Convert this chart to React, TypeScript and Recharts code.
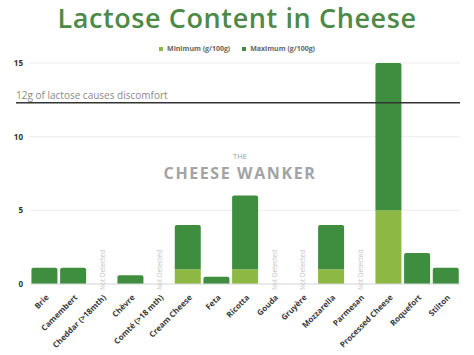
import React from 'react';
import { BarChart, Bar, XAxis, YAxis, CartesianGrid, ReferenceLine } from 'recharts';

const cheeses = ['Brie', 'Camembert', 'Cheddar (>18mth)', 'Chèvre', 'Comté (>18 mth)', 'Cream Cheese', 'Feta', 'Ricotta', 'Gouda', 'Gruyère', 'Mozzarella', 'Parmesan', 'Processed Cheese', 'Roquefort', 'Stilton'];
const minimum: (number | null)[] = [null, null, null, null, null, 1, null, 1, null, null, 1, null, 5, null, null];
const maximum: (number | null)[] = [1.1, 1.1, null, 0.6, null, 4, 0.5, 6, null, null, 4, null, 15, 2.1, 1.1];
const notDetected = ['Cheddar (>18mth)', 'Comté (>18 mth)', 'Gouda', 'Gruyère', 'Parmesan'];
const yTicks = [0, 5, 10, 15];
const discomfortLevel = 12.3;
const discomfortLabel = '12g of lactose causes discomfort';

const DARK = '#3f8e3f';
const LIGHT = '#8cb843';

const data = cheeses.map((name, i) => {
  const mn = minimum[i] ?? 0;
  const mx = maximum[i];
  return {
    name,
    min: minimum[i],
    rest: mx == null ? null : mx - mn,
  };
});

const FONT = '"Open Sans", sans-serif';

const XTick = (props: any) => {
  const { x, y, payload } = props;
  const nd = notDetected.includes(payload.value);
  return (
    <g>
      <text
        transform={`translate(${x + 5},${y + 6}) rotate(-45)`}
        textAnchor="end"
        fontSize={8}
        fontWeight={700}
        fill="#3a3a3a"
        fontFamily={FONT}
      >
        {payload.value}
      </text>
      {nd && (
        <text
          transform={`translate(${x + 3},${y - 2}) rotate(-90)`}
          textAnchor="start"
          fontSize={6.5}
          fill="#c4c4c4"
          fontFamily={FONT}
        >
          Not Detected
        </text>
      )}
    </g>
  );
};

const RefLabel = (props: any) => {
  const { viewBox } = props;
  const y = viewBox.y;
  return (
    <g>
      <line x1={16} x2={viewBox.x} y1={y} y2={y} stroke="#333" strokeWidth={1.5} />
      <text x={16} y={y - 4} fontSize={10} fill="#8a8a8a" fontFamily={FONT}>
        {discomfortLabel}
      </text>
    </g>
  );
};

export default function App() {
  return (
    <div style={{ position: 'absolute', left: 0, top: 0, width: 474, height: 355, background: '#fff', fontFamily: FONT }}>
      <div style={{ position: 'absolute', left: 0, top: -2, width: 474, textAlign: 'center', fontSize: 27, fontWeight: 600, color: '#4d8a47', lineHeight: '40px', letterSpacing: 0.6 }}>
        Lactose Content in Cheese
      </div>
      <div style={{ position: 'absolute', left: 0, top: 44, width: 474, display: 'flex', justifyContent: 'center', gap: 12, fontSize: 7, fontWeight: 700, color: '#666', lineHeight: '10px' }}>
        <span style={{ display: 'flex', alignItems: 'center', gap: 4 }}>
          <span style={{ width: 4, height: 4, background: LIGHT, display: 'inline-block' }} />Minimum (g/100g)
        </span>
        <span style={{ display: 'flex', alignItems: 'center', gap: 4 }}>
          <span style={{ width: 4, height: 4, background: DARK, display: 'inline-block' }} />Maximum (g/100g)
        </span>
      </div>
      <div style={{ position: 'absolute', left: 0, top: 0 }}>
        <BarChart width={474} height={355} data={data} margin={{ top: 63, right: 14, bottom: 0, left: 0 }} barCategoryGap="5%">
          <CartesianGrid vertical={false} stroke="#ececec" />
          <XAxis dataKey="name" interval={0} height={71} tick={<XTick />} tickLine={false} axisLine={{ stroke: '#ddd' }} />
          <YAxis width={30} domain={[0, 15]} ticks={yTicks} tickSize={0} tickMargin={7} axisLine={false} tickLine={false} tick={{ fontSize: 8, fontWeight: 700, fill: '#333', fontFamily: FONT }} />
          <text x={240} y={159} textAnchor="middle" fontSize={7.5} fill="#9a9a9a" fontFamily={FONT}>THE</text>
          <text x={240} y={179} textAnchor="middle" fontSize={16} fontWeight={700} fill="#a3a3a3" fontFamily={FONT} letterSpacing={1.6}>CHEESE WANKER</text>
          <Bar dataKey="min" stackId="a" fill={LIGHT} isAnimationActive={false} />
          <Bar dataKey="rest" stackId="a" fill={DARK} radius={[2, 2, 0, 0]} isAnimationActive={false} />
          <ReferenceLine y={discomfortLevel} stroke="#333" strokeWidth={1.5} label={<RefLabel />} />
        </BarChart>
      </div>
    </div>
  );
}
